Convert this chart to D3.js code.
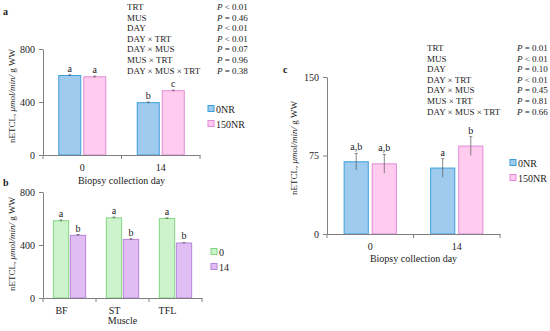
<!DOCTYPE html>
<html>
<head>
<meta charset="utf-8">
<script src="https://cdn.jsdelivr.net/npm/d3@7"></script>
<style>
body{margin:0;background:#fff}
text{font-family:"Liberation Serif","Times New Roman",serif;fill:#222}
.axis path,.axis line{stroke:#808080}
.axis text{font-size:10px;fill:#222}
</style>
</head>
<body>
<svg width="550" height="331"></svg>
<script>
// panel a: day x treatment
var days=["0","14"]
var trts=["0NR","150NR"]
var aVals=[[600,590],[395,485]]
var aErr=[[6,5],[5,5]]
var aLetters=[["a","a"],["b","c"]]

// panel b: muscle x day
var muscles=["BF","ST","TFL"]
var bDays=["0","14"]
var bVals=[[583,473],[605,442],[600,415]]
var bErr=[[6,6],[6,5],[5,4]]
var bLetters=[["a","b"],["a","b"],["a","b"]]

// panel c: day x treatment
var cVals=[[69,67],[63,84]]
var cErr=[[8,9],[9,9]]
var cLetters=[["a,b","a,b"],["a","b"]]

var terms=["TRT","MUS","DAY","DAY \u00d7 TRT","DAY \u00d7 MUS","MUS \u00d7 TRT","DAY \u00d7 MUS \u00d7 TRT"]
var pA=["< 0.01","= 0.46","< 0.01","< 0.01","= 0.07","= 0.96","= 0.38"]
var pC=["= 0.01","< 0.01","= 0.10","< 0.01","= 0.45","= 0.81","= 0.66"]

var yTicksA=[0,400,800]
var yTicksC=[0,75,150]

var blue={fill:"#9fcbee",stroke:"#3d9fdc"}
var pink={fill:"#ffccf0",stroke:"#e08ad6"}
var green={fill:"#cdf3cd",stroke:"#84d684"}
var purple={fill:"#e0bdf2",stroke:"#b883dc"}

var svg=d3.select("svg")

var drawPanel=function(o){
  var g=svg.append("g")
  var x=d3.scaleBand().domain(o.cats).range(o.xr)
  var x1=d3.scaleBand().domain(o.series).range([0,x.bandwidth()])
      .paddingInner(o.pi).paddingOuter(o.po)
  var y=d3.scaleLinear().domain(o.ydom).range(o.yr)

  var rows=[]
  o.cats.forEach(function(c,i){
    o.series.forEach(function(s,j){
      rows.push({cat:c,ser:s,j:j,v:o.vals[i][j],e:o.err[i][j],l:o.letters[i][j]})
    })
  })

  g.selectAll("rect.bar").data(rows).enter().append("rect")
    .attr("class","bar")
    .attr("x",function(d){return x(d.cat)+x1(d.ser)})
    .attr("y",function(d){return y(d.v)})
    .attr("width",x1.bandwidth())
    .attr("height",function(d){return y(0)-y(d.v)})
    .attr("fill",function(d){return o.colors[d.j].fill})
    .attr("stroke",function(d){return o.colors[d.j].stroke})
    .attr("stroke-width",1)

  // error bars
  var cx=function(d){return x(d.cat)+x1(d.ser)+x1.bandwidth()/2}
  g.selectAll("line.err").data(rows).enter().append("line")
    .attr("x1",cx).attr("x2",cx)
    .attr("y1",function(d){return y(d.v-d.e)})
    .attr("y2",function(d){return y(d.v+d.e)})
    .attr("stroke","#555").attr("stroke-width",0.7)
  g.selectAll("line.cap").data(rows).enter().append("line")
    .attr("x1",function(d){return cx(d)-1.5}).attr("x2",function(d){return cx(d)+1.5})
    .attr("y1",function(d){return y(d.v+d.e)})
    .attr("y2",function(d){return y(d.v+d.e)})
    .attr("stroke","#555").attr("stroke-width",0.7)

  g.selectAll("text.let").data(rows).enter().append("text")
    .attr("x",cx)
    .attr("y",function(d){return y(d.v+d.e)-3})
    .attr("text-anchor","middle")
    .style("font-size","10px")
    .text(function(d){return d.l})

  // y axis
  g.append("g").attr("class","axis")
    .attr("transform","translate("+o.xr[0]+",0)")
    .call(d3.axisLeft(y).tickValues(o.yticks).tickSize(4).tickSizeOuter(0).tickPadding(4))
  // x axis, ticks at band edges like excel
  var xa=g.append("g").attr("class","axis")
    .attr("transform","translate(0,"+y(0)+")")
    .call(d3.axisBottom(x).tickSize(0).tickPadding(9))
  xa.selectAll(".tick text").attr("dx",o.labShift||0)
  var edges=o.cats.map(function(c){return x(c)}).concat([o.xr[1]])
  xa.selectAll("line.edge").data(edges).enter().append("line")
    .attr("x1",function(d){return d}).attr("x2",function(d){return d})
    .attr("y1",0).attr("y2",4).attr("stroke","#808080")

  g.append("text")
    .attr("x",(o.xr[0]+o.xr[1])/2).attr("y",o.xlabY)
    .attr("text-anchor","middle").style("font-size","10px")
    .text(o.xlab)

  var yl=g.append("text")
    .attr("transform","translate("+o.ylabX+","+o.ylabY+") rotate(-90)")
    .attr("text-anchor","middle").style("font-size","9px")
  yl.append("tspan").text("nETCL, ")
  yl.append("tspan").style("font-style","italic").text("\u03bcmol/min/")
  yl.append("tspan").text(" g WW")

  // legend
  var lg=g.selectAll("g.leg").data(o.series).enter().append("g")
    .attr("transform",function(d,i){return "translate("+o.legX+","+(o.legY+i*15)+")"})
  lg.append("rect").attr("x",0).attr("y",-3.5).attr("width",6).attr("height",6)
    .attr("fill",function(d,i){return o.colors[i].fill})
    .attr("stroke",function(d,i){return o.colors[i].stroke})
  lg.append("text").attr("x",8).attr("y",3.5).style("font-size","10px")
    .text(function(d){return d})

  svg.append("text").attr("x",o.tagX).attr("y",o.tagY)
    .style("font-size","10px").style("font-weight","bold").text(o.tag)
}

var drawStats=function(x0,x1,y0,ps){
  var s=svg.append("g")
  s.selectAll("text.term").data(terms).enter().append("text")
    .attr("x",x0).attr("y",function(d,i){return y0+i*10.6})
    .style("font-size","9px").text(function(d){return d})
  var pt=s.selectAll("text.p").data(ps).enter().append("text")
    .attr("x",x1).attr("y",function(d,i){return y0+i*10.6})
    .style("font-size","9px")
  pt.append("tspan").style("font-style","italic").text("P")
  pt.append("tspan").text(function(d){return " "+d})
}

drawPanel({cats:days,series:trts,vals:aVals,err:aErr,letters:aLetters,
  xr:[43,200],pi:0.12,po:0.63,ydom:[0,800],yr:[155,49],yticks:yTicksA,
  colors:[blue,pink],xlab:"Biopsy collection day",xlabY:184,ylabX:15,ylabY:96,
  legX:208,legY:109,tag:"a",tagX:3,tagY:15})

drawPanel({cats:muscles,series:bDays,vals:bVals,err:bErr,letters:bLetters,
  xr:[43,202],pi:0.1,po:0.61,ydom:[0,800],yr:[298,192],yticks:yTicksA,labShift:-8,
  colors:[green,purple],xlab:"Muscle",xlabY:324,ylabX:15,ylabY:244,
  legX:211,legY:252,tag:"b",tagX:3,tagY:186})

drawPanel({cats:days,series:trts,vals:cVals,err:cErr,letters:cLetters,
  xr:[327,500],pi:0.14,po:0.61,ydom:[0,150],yr:[234,77],yticks:yTicksC,
  colors:[blue,pink],xlab:"Biopsy collection day",xlabY:262,ylabX:297,ylabY:148,
  legX:510,legY:163,tag:"c",tagX:283,tagY:73})

drawStats(127,217,10,pA)
drawStats(427,517,51,pC)
</script>
</body>
</html>
